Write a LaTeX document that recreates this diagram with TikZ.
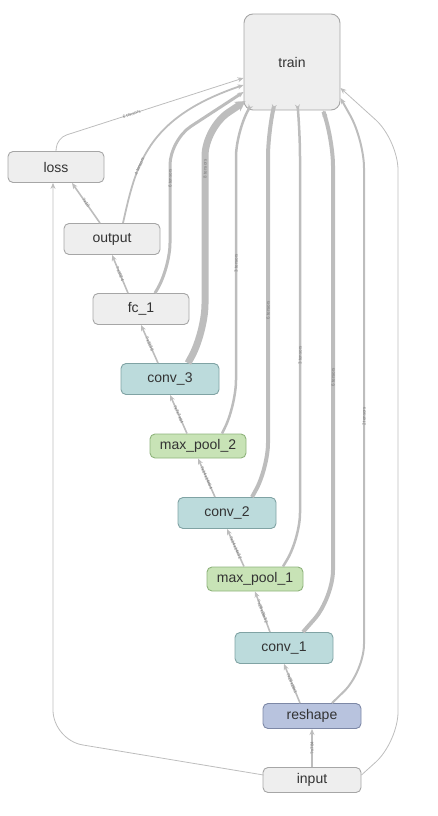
\documentclass[tikz,border=0pt]{standalone}
\usepackage{fontspec}
\setmainfont{Liberation Sans}
\usetikzlibrary{arrows.meta}

\definecolor{edgegray}{HTML}{BDBDBD}
\definecolor{labelgray}{HTML}{7A7A7A}
\definecolor{optext}{HTML}{333333}
\definecolor{opfill}{HTML}{EEEEEE}
\definecolor{opborder}{HTML}{A6A6A6}
\definecolor{convfill}{HTML}{BCDBDC}
\definecolor{convborder}{HTML}{80A3A4}
\definecolor{poolfill}{HTML}{C8E3B6}
\definecolor{poolborder}{HTML}{8FB37C}
\definecolor{shapefill}{HTML}{B8C3DE}
\definecolor{shapeborder}{HTML}{7D88A6}

\tikzset{
  op/.style={draw=opborder, fill=opfill, rounded corners=5pt, line width=0.9pt,
    minimum width=96pt, minimum height=31pt, inner sep=0pt,
    font=\fontsize{14}{16}\selectfont, text=optext},
  conv/.style={op, draw=convborder, fill=convfill},
  pool/.style={op, draw=poolborder, fill=poolfill, minimum height=24pt},
  reshp/.style={op, draw=shapeborder, fill=shapefill, minimum height=25pt},
  flow/.style={draw=edgegray, -{Stealth[length=6pt, width=5pt]}},
  bigflow/.style={draw=edgegray, -{Stealth[length=10pt, width=11pt]}},
  elabel/.style={font=\fontsize{4.5}{5}\selectfont, text=labelgray, sloped, inner sep=1pt},
}

\begin{document}
\begin{tikzpicture}[x=1pt, y=-1pt]

    \useasboundingbox (0,0) rectangle (438,816) ; %

    \node[op, minimum width=96pt, minimum height=96pt, rounded corners=9pt] (train) at (292,62) {train} ; %
    \node[op] (loss) at (56,167) {loss} ; %
    \node[op] (output) at (112,239) {output} ; %
    \node[op] (fc_1) at (141,309) {fc\_1} ; %
    \node[conv, minimum width=98pt] (conv_3) at (170,379) {conv\_3} ; %
    \node[pool] (max_pool_2) at (198,446) {max\_pool\_2} ; %
    \node[conv, minimum width=98pt] (conv_2) at (227,513) {conv\_2} ; %
    \node[pool] (max_pool_1) at (255,579) {max\_pool\_1} ; %
    \node[conv, minimum width=98pt] (conv_1) at (284,648) {conv\_1} ; %
    \node[reshp, minimum width=98pt] (reshape) at (312,716) {reshape} ; %
    \node[op, minimum width=98pt, minimum height=25pt] (input) at (312,780) {input} ; %

    % main chain
    \draw[flow, line width=1.6pt] (input.north) -- node[elabel] {?x784} (reshape.south) ; %
    \draw[flow, line width=1.6pt] ([xshift=-12pt]reshape.north) -- node[elabel] {?x28x28x1} (conv_1.south) ; %
    \draw[flow, line width=1.6pt] ([xshift=-14pt]conv_1.north) -- node[elabel] {?x28x28x32} (max_pool_1.south) ; %
    \draw[flow, line width=1.6pt] ([xshift=-11pt]max_pool_1.north) -- node[elabel] {?x14x14x32} (conv_2.south) ; %
    \draw[flow, line width=1.6pt] ([xshift=-12pt]conv_2.north) -- node[elabel] {?x14x14x64} (max_pool_2.south) ; %
    \draw[flow, line width=1.6pt] ([xshift=-11pt]max_pool_2.north) -- node[elabel] {?x7x7x64} (conv_3.south) ; %
    \draw[flow, line width=1.6pt] ([xshift=-12pt]conv_3.north) -- node[elabel] {?x3136} (fc_1.south) ; %
    \draw[flow, line width=1.6pt] ([xshift=-13pt]fc_1.north) -- node[elabel] {?x1024} (output.south) ; %
    \draw[flow, line width=1.6pt] ([xshift=-12pt]output.north) -- node[elabel] {?x10} ([xshift=16pt]loss.south) ; %
    \draw[flow, line width=0.8pt, rounded corners=30pt] ([xshift=1pt, yshift=5pt]input.west) -- (53,740) -- ([xshift=-3pt]loss.south) ; %

    % edges into train
    \draw[flow, line width=0.8pt, rounded corners=10pt] (loss.north) -- (57,138) -- node[elabel, pos=0.4] {6 tensors} ([yshift=-16pt]train.west) ; %
    \draw[flow, line width=1.8pt] ([xshift=11pt]output.north) .. controls (136,165) and (146,118) .. node[elabel, pos=0.35] {4 tensors} ([yshift=-23pt]train.west) ; %
    \draw[flow, line width=3pt, rounded corners=25pt] ([xshift=14pt]fc_1.north) -- (170,268) -- node[elabel, pos=0.7] {6 tensors} (170,140) -- ([yshift=-30pt]train.west) ; %
    \draw[bigflow, line width=7pt, rounded corners=28pt] ([xshift=18pt]conv_3.north) -- (205,332) -- node[elabel, pos=0.8] {8 tensors} (205,128) -- ([xshift=2pt, yshift=-39pt]train.west) ; %
    \draw[flow, line width=2.5pt, rounded corners=25pt] ([xshift=24pt]max_pool_2.north) -- (236,405) -- node[elabel, pos=0.52] {3 tensors} (236,132) -- ([xshift=-44pt]train.south) ; %
    \draw[flow, line width=4pt, rounded corners=25pt] ([xshift=25pt]conv_2.north) -- (268,468) -- node[elabel, pos=0.47] {6 tensors} (268,132) -- ([xshift=-19pt]train.south) ; %
    \draw[flow, line width=2.5pt, rounded corners=25pt] ([xshift=28pt]max_pool_1.north) -- (300,538) -- node[elabel, pos=0.45] {3 tensors} (300,132) -- ([xshift=6pt]train.south) ; %
    \draw[flow, line width=4pt, rounded corners=28pt] ([xshift=19pt]conv_1.north) -- (333,598) -- node[elabel, pos=0.48] {6 tensors} (333,138) -- ([xshift=31pt]train.south) ; %
    \draw[flow, line width=2pt, rounded corners=28pt] ([xshift=20pt]reshape.north) -- (364,672) -- node[elabel, pos=0.48] {2 tensors} (364,140) -- ([yshift=-36pt]train.east) ; %
    \draw[flow, line width=0.8pt, rounded corners=30pt] ([yshift=5pt]input.east) -- (398,742) -- (398,140) -- ([yshift=-26pt]train.east) ; %

\end{tikzpicture}
\end{document}
